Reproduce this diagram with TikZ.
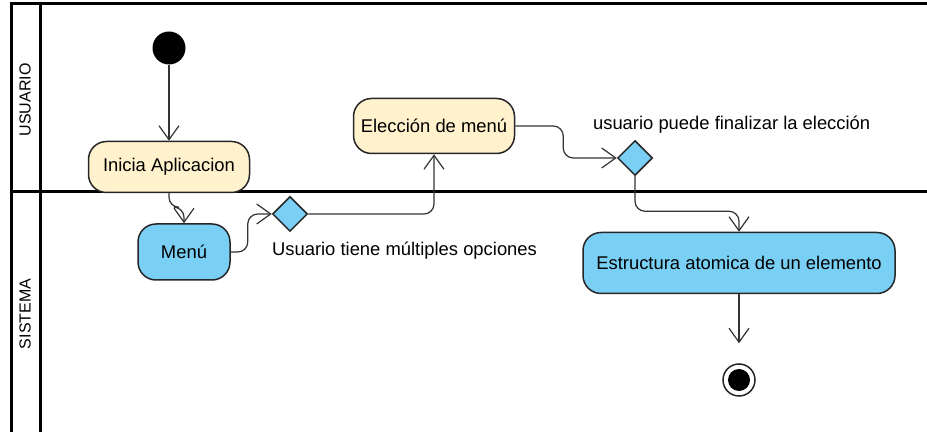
\documentclass[tikz,border=0pt]{standalone}
\usepackage{fontspec}
\setmainfont{Liberation Sans}
\usetikzlibrary{positioning,shapes.geometric,arrows.meta}
\definecolor{actyellow}{RGB}{255,242,204}
\definecolor{actblue}{RGB}{122,207,245}
\tikzstyle{act}=[draw=black!85, line width=0.75pt, rounded corners=9pt, font=\fontsize{9.2}{11}\selectfont]
\tikzstyle{usr}=[act, fill=actyellow]
\tikzstyle{sys}=[act, fill=actblue]
\tikzstyle{dec}=[diamond, draw=black!85, fill=actblue, line width=0.75pt, minimum width=17.5pt, minimum height=17.5pt, inner sep=0pt]
\tikzstyle{flow}=[-{Straight Barb[length=7pt,width=10pt]}, line width=0.6pt, draw=black!80, rounded corners=5pt]
\tikzstyle{lane}=[line width=1.5pt]
\tikzstyle{lbl}=[font=\fontsize{9.2}{11}\selectfont]

\begin{document}
\begin{tikzpicture}[x=0.5pt,y=-0.5pt]
\useasboundingbox (0,0) rectangle (927,432);

% swimlanes
\draw[lane] (11,432) -- (11,4) -- (927,4);
\draw[lane] (40,4) -- (40,432);
\draw[lane] (11,192) -- (927,192);
\node[rotate=90, font=\fontsize{8}{10}\selectfont] (usrlane) at (25,100) {USUARIO};
\node[rotate=90, font=\fontsize{8}{10}\selectfont] (syslane) at (25,314) {SISTEMA};

\node[circle, fill=black, minimum size=16.5pt, inner sep=0pt] (start) at (169,48) {};
\node[usr, minimum width=80.5pt, minimum height=25.5pt] (inicia) at (169,167) {Inicia Aplicacion};
\draw[flow] (start) -- (inicia);

\node[sys, minimum width=46pt, minimum height=28pt] (menu) at (184,252) {Menú};
\draw[flow] (inicia.south) -- ++(0,14) -| (menu.north);

\node[dec] (dec1) at (290,214) {};
\node[lbl, anchor=west] (opc) at (265,251) {Usuario tiene múltiples opciones};
\draw[flow] (menu.east) -- ++(17,0) |- (dec1.west);

\node[usr, minimum width=80.5pt, minimum height=27.5pt] (eleccion) at (434,126) {Elección de menú};
\draw[flow] (dec1.east) -| (eleccion.south);

\node[dec] (dec2) at (635,158) {};
\node[lbl, anchor=west] (fin_lbl) at (586,125) {usuario puede finalizar la elección};
\draw[flow] (eleccion.east) -- ++(48,0) |- (dec2.west);

\node[sys, minimum width=156pt, minimum height=30.5pt] (estr) at (739,263) {Estructura atomica de un elemento};
\draw[flow] (dec2.south) -- ++(0,35) -| (estr.north);

\node[circle, draw=black!85, line width=0.75pt, fill=white, minimum size=16pt, inner sep=0pt] (fin) at (739,380) {};
\fill (fin.center) circle[radius=5.5pt];
\draw[flow, shorten >=10pt] (estr.south) -- (fin.north);
\end{tikzpicture}
\end{document}
